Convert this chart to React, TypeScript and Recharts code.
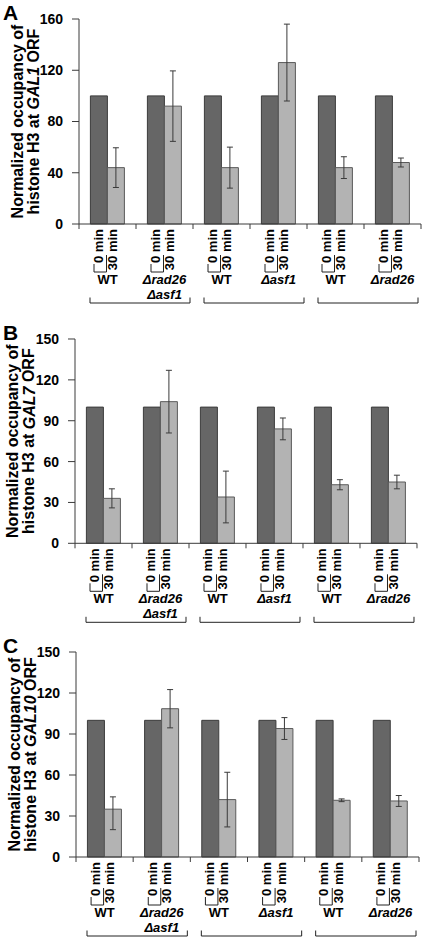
import React from 'react';
import { BarChart, Bar, XAxis, YAxis, ErrorBar, Label } from 'recharts';

const strains = ['WT', 'Δrad26 Δasf1', 'WT', 'Δasf1', 'WT', 'Δrad26'];
const timeLabels = ['0 min', '30 min'];
const control0 = [100, 100, 100, 100, 100, 100];

const gal1At30 = [44, 92, 44, 126, 44, 48];
const gal1Err = [15.5, 27.5, 16, 30, 8.5, 3.5];
const gal7At30 = [33, 104, 34, 84, 43, 45];
const gal7Err = [7, 23, 19, 8, 3.7, 5];
const gal10At30 = [35, 108.5, 42, 94, 41.5, 41];
const gal10Err = [[15, 9], 14, 20, 8, 1, 4];

const ticks160 = [0, 40, 80, 120, 160];
const ticks150 = [0, 30, 60, 90, 120, 150];

const FONT = '"Liberation Sans", Arial, Helvetica, sans-serif';
const AXIS = '#3a3a3a';
const DARK = '#666666';
const LIGHT = '#b3b3b3';

const TOP = 19; // space above plot inside each chart
const X_AXIS_H = 82;

const panels = [
  { letter: 'A', gene: 'GAL1', values: gal1At30, errors: gal1Err, ticks: ticks160, plotTop: 19, plotBottom: 224, axisLeft: 79, axisRight: 421 },
  { letter: 'B', gene: 'GAL7', values: gal7At30, errors: gal7Err, ticks: ticks150, plotTop: 339, plotBottom: 543.3, axisLeft: 75, axisRight: 417 },
  { letter: 'C', gene: 'GAL10', values: gal10At30, errors: gal10Err, ticks: ticks150, plotTop: 651.7, plotBottom: 856.7, axisLeft: 76, axisRight: 419 },
];

function StrainTick(props: any) {
  const { x, y, payload, band } = props;
  const index = props.index ?? payload.index ?? 0;
  const half = band / 2;
  const words = strains[index].split(' ');
  const text = { fontFamily: FONT, fontSize: 13, fontWeight: 700, fill: '#000' };
  return (
    <g>
      <line x1={x - half} y1={y} x2={x - half} y2={y + 5} stroke={AXIS} />
      {index === strains.length - 1 && <line x1={x + half} y1={y} x2={x + half} y2={y + 5} stroke={AXIS} />}
      <text x={x - 9.5} y={y + 5} transform={`rotate(-90, ${x - 9.5}, ${y + 5})`} textAnchor="end" dominantBaseline="central" {...text}>
        {timeLabels[0]}
      </text>
      <text x={x + 5} y={y + 5} transform={`rotate(-90, ${x + 5}, ${y + 5})`} textAnchor="end" dominantBaseline="central" {...text}>
        {timeLabels[1]}
      </text>
      <path d={`M${x - 13.5},${y + 40} V${y + 48} H${x - 1} V${y + 31}`} fill="none" stroke="#222" strokeWidth={1} />
      {words.map((w, i) => (
        <text key={i} x={x} y={y + 59.5 + i * 15.5} textAnchor="middle" {...text} fontStyle={w.startsWith('Δ') ? 'italic' : 'normal'}>
          {w}
        </text>
      ))}
      {index % 2 === 0 && (
        <path
          d={`M${x - half + 11},${y + 73.5} V${y + 79} H${x + band * 1.5 - 3} V${y + 73.5}`}
          fill="none"
          stroke="#222"
          strokeWidth={1}
        />
      )}
    </g>
  );
}

function Panel({ p }: { p: (typeof panels)[number] }) {
  const data = strains.map((s, i) => ({ strain: s, t0: control0[i], t30: p.values[i], err: p.errors[i] }));
  const plotH = p.plotBottom - p.plotTop;
  const height = TOP + plotH + X_AXIS_H;
  const band = (p.axisRight - p.axisLeft) / strains.length;
  const max = p.ticks[p.ticks.length - 1];
  const midY = TOP + plotH / 2;

  const yLabel = () => (
    <g fontFamily={FONT} fontWeight={700} fill="#000">
      <text x={3} y={TOP + 1} fontSize={21}>{p.letter}</text>
      <text x={p.axisLeft - 62} y={midY} transform={`rotate(-90, ${p.axisLeft - 62}, ${midY})`} textAnchor="middle" dominantBaseline="central" fontSize={16}>
        Normalized occupancy of
      </text>
      <text x={p.axisLeft - 46} y={midY} transform={`rotate(-90, ${p.axisLeft - 46}, ${midY})`} textAnchor="middle" dominantBaseline="central" fontSize={16}>
        histone H3 at <tspan fontStyle="italic">{p.gene}</tspan> ORF
      </text>
    </g>
  );

  return (
    <div style={{ position: 'absolute', left: 0, top: p.plotTop - TOP, width: 425, height }}>
      <BarChart
        width={425}
        height={height}
        data={data}
        margin={{ top: TOP, right: 425 - p.axisRight, bottom: 0, left: 0 }}
        barCategoryGap="20%"
        barGap={0}
      >
        <XAxis
          dataKey="strain"
          interval={0}
          height={X_AXIS_H}
          tickLine={false}
          tickSize={0}
          tickMargin={0}
          axisLine={{ stroke: AXIS }}
          tick={(t: any) => <StrainTick {...t} band={band} />}
        />
        <YAxis
          width={p.axisLeft}
          domain={[0, max]}
          ticks={p.ticks}
          interval={0}
          tickSize={7}
          tickMargin={9}
          axisLine={{ stroke: AXIS }}
          tickLine={{ stroke: AXIS }}
          tick={{ fill: '#000', fontSize: 14, fontWeight: 700, fontFamily: FONT }}
        >
          <Label content={yLabel} />
        </YAxis>
        <Bar dataKey="t0" fill={DARK} stroke="#3c3c3c" strokeWidth={1} isAnimationActive={false} />
        <Bar dataKey="t30" fill={LIGHT} stroke="#5a5a5a" strokeWidth={1} isAnimationActive={false}>
          <ErrorBar dataKey="err" width={3} stroke="#3a3a3a" strokeWidth={1} direction="y" isAnimationActive={false} />
        </Bar>
      </BarChart>
    </div>
  );
}

export default function App() {
  return (
    <div style={{ position: 'absolute', left: 0, top: 0, width: 425, height: 938, background: '#fff', overflow: 'hidden' }}>
      {panels.map((p) => (
        <Panel key={p.letter} p={p} />
      ))}
    </div>
  );
}
